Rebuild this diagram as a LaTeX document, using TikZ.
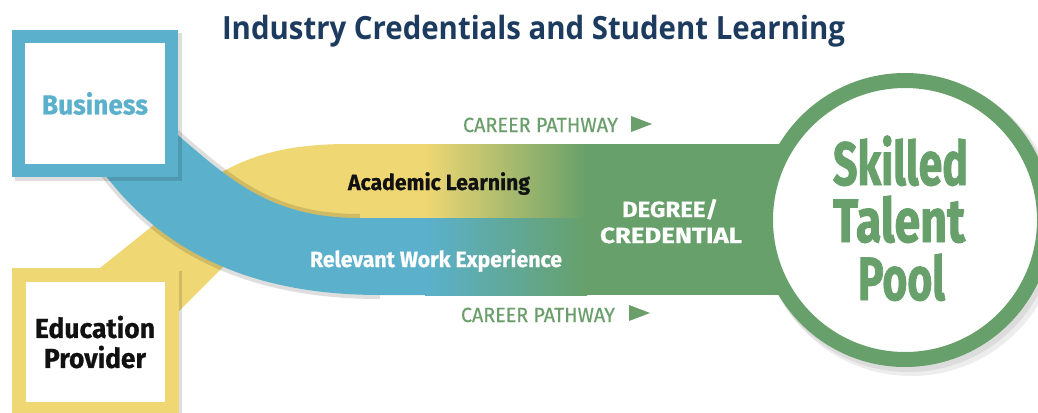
\documentclass[tikz,border=0pt]{standalone}
\usepackage{fontspec}
\usepackage{graphicx}
\setmainfont{Fira Sans}
\newfontfamily\titlefont{Open Sans}
\definecolor{bluec}{HTML}{5BB1CC}
\definecolor{yellowc}{HTML}{EFD773}
\definecolor{greenc}{HTML}{67A06A}
\definecolor{gtext}{HTML}{6A9E6B}
\definecolor{navy}{HTML}{1D3A5F}
\definecolor{inkc}{HTML}{111111}
\tikzset{
  boxstyle/.style={rectangle, fill=white, minimum width=153pt, minimum height=134pt, inner sep=0pt, align=center},
  lbl/.style={inner sep=0pt, anchor=base, font=\bfseries\fontsize{22}{26}\selectfont\addfontfeature{FakeBold=0.6}},
  pathlbl/.style={inner sep=0pt, anchor=base, text=gtext, font=\fontsize{20.5}{24}\selectfont\addfontfeature{FakeBold=0.4}},
  poollbl/.style={inner sep=0pt, anchor=base, text=greenc, font=\bfseries\fontsize{61}{70}\selectfont\addfontfeature{FakeBold=1.6}},
  tri/.style={fill=gtext},
  shadowc/.style={black, opacity=0.13}
}
\begin{document}
\begin{tikzpicture}[x=1pt,y=-1pt]
\useasboundingbox (0,0) rectangle (1038,412);
\fill[white] (0,0) rectangle (1038,412);

% yellow band
\fill[yellowc] (95,272) -- (215,176) .. controls (255,152) and (295,144) .. (350,144) -- (445,144) -- (445,222) -- (300,222) -- (240,250) -- (178,312) -- (150,300) -- cycle;

% shadow of blue band on yellow
\draw[shadowc, line width=8pt] (100,168) .. controls (165,258) and (260,295) .. (380,295);
\draw[shadowc, line width=8pt] (360,218) .. controls (270,218) and (230,180) .. (172,130);

% blue band
\fill[bluec] (100,168) .. controls (165,258) and (260,295) .. (380,295) -- (445,295) -- (445,218) -- (360,218) .. controls (270,218) and (230,180) .. (172,130) -- cycle;

% gradients into green
\shade[left color=yellowc, right color=greenc] (425,144) rectangle (587,218.5);
\shade[left color=bluec, right color=greenc] (425,218) rectangle (587,295);
\fill[greenc] (585,144) rectangle (800,295);

% circle
\fill[black, opacity=0.07] (911,227) circle (149);
\fill[black, opacity=0.07] (908,224) circle (148);
\node[circle, draw=greenc, line width=15pt, fill=white, minimum size=279pt, inner sep=0pt] (ring) at (905,220) {};

% boxes
\fill[shadowc] (15,33) rectangle (182,181);
\node[boxstyle, draw=bluec, line width=13pt, text=bluec, font=\bfseries\fontsize{27.5}{30}\selectfont\addfontfeature{FakeBold=0.6}] (business) at (95,103.5) {\resizebox{106pt}{\height}{Business}};
\fill[shadowc] (15,271) rectangle (182,420);
\node[boxstyle, draw=yellowc, line width=14pt, text=inkc, font=\bfseries\fontsize{27.5}{30}\selectfont\addfontfeature{FakeBold=0.6}] (edu) at (95,342) {\resizebox{120pt}{\height}{Education}\\\resizebox{102pt}{\height}{Provider}};

% title
\node[inner sep=0pt, anchor=base, text=navy, font=\titlefont\bfseries\fontsize{32}{36}\selectfont] (title) at (533.5,40) {\resizebox{623pt}{\height}{Industry Credentials and Student Learning}};

% band labels
\node[lbl, text=inkc] (acad) at (439,190) {\resizebox{182pt}{\height}{Academic Learning}};
\node[lbl, text=white] (work) at (436,267) {\resizebox{252pt}{\height}{Relevant Work Experience}};
\node[lbl, text=white] (deg) at (670,217) {\resizebox{96pt}{\height}{DEGREE/}};
\node[lbl, text=white] (cred) at (671,243) {\resizebox{142pt}{\height}{CREDENTIAL}};

% career pathway labels
\node[pathlbl] (cp1) at (540.5,132) {\resizebox{155pt}{\height}{CAREER PATHWAY}};
\fill[tri] (631,116) -- (652,124) -- (631,132) -- cycle;
\node[pathlbl] (cp2) at (538,322) {\resizebox{154pt}{\height}{CAREER PATHWAY}};
\fill[tri] (629,305) -- (650,313) -- (629,321) -- cycle;

% pool text
\node[poollbl] (skilled) at (900.5,185) {\resizebox{135pt}{\height}{Skilled}};
\node[poollbl] (talent) at (899,242) {\resizebox{132pt}{\height}{Talent}};
\node[poollbl] (pool) at (901.5,300) {\resizebox{87pt}{\height}{Pool}};
\end{tikzpicture}
\end{document}
